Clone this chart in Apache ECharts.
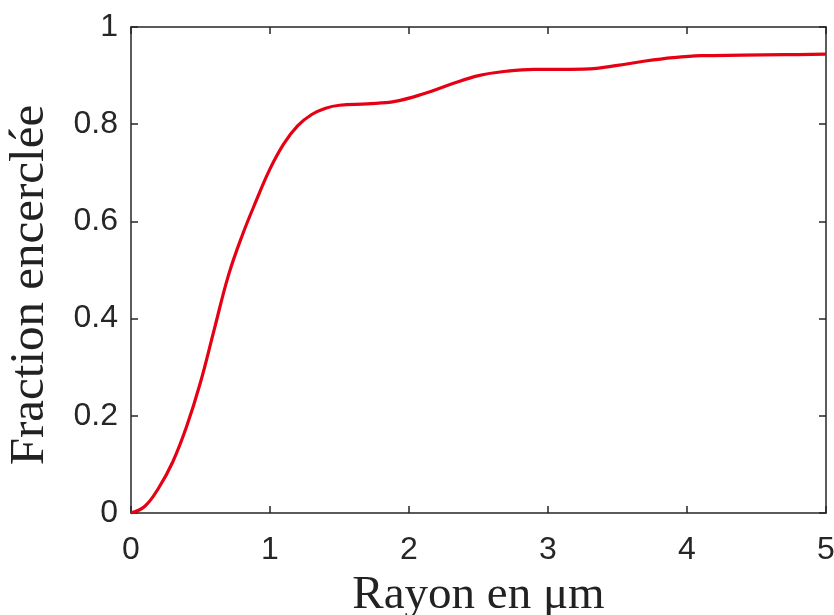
<!DOCTYPE html>
<html>
<head>
<meta charset="utf-8">
<script src="https://cdn.jsdelivr.net/npm/echarts@6/dist/echarts.min.js"></script>
<style>html,body{margin:0;padding:0;background:#fff;}#chart{width:834px;height:615px;}</style>
</head>
<body>
<div id="chart"></div>
<script>
var rayon = [0, 0.1, 0.2, 0.3, 0.4, 0.5, 0.6, 0.7, 0.8, 0.9, 1.0, 1.1, 1.2, 1.3, 1.4, 1.5, 1.7, 1.9, 2.1, 2.3, 2.5, 2.7, 2.9, 3.1, 3.3, 3.5, 3.7, 3.9, 4.1, 4.4, 4.7, 5.0];
var fraction = [0, 0.014, 0.052, 0.105, 0.178, 0.269, 0.379, 0.488, 0.571, 0.642, 0.708, 0.76, 0.797, 0.82, 0.833, 0.839, 0.842, 0.847, 0.862, 0.882, 0.900, 0.909, 0.913, 0.913, 0.914, 0.921, 0.930, 0.937, 0.941, 0.942, 0.943, 0.944];
var xTicks = [0, 1, 2, 3, 4, 5];
var yTicks = [0, 0.2, 0.4, 0.6, 0.8, 1];
var xTitle = 'Rayon en \u03bcm';
var yTitle = 'Fraction encercl\u00e9e';

var axisCol = '#262626';
var chart = echarts.init(document.getElementById('chart'));
var pts = rayon.map(function (x, i) { return [x, fraction[i]]; });
var tickFont = { fontFamily: 'Liberation Sans', fontSize: 32, color: axisCol };
function baseAxis(extra) {
  var a = {
    type: 'value', show: true,
    axisLine: { show: true, onZero: false, lineStyle: { color: axisCol, width: 1.5 } },
    axisTick: { show: true, inside: true, length: 7, lineStyle: { color: axisCol, width: 1.5 } },
    splitLine: { show: false }
  };
  for (var k in extra) a[k] = extra[k];
  return a;
}
chart.setOption({
  animation: false,
  grid: { left: 131, right: 8, top: 27, bottom: 102, containLabel: false, outerBoundsMode: 'none' },
  xAxis: [
    baseAxis({ min: xTicks[0], max: xTicks[xTicks.length - 1], interval: 1, position: 'bottom',
      axisLabel: Object.assign({ margin: 21 }, tickFont),
      name: xTitle, nameLocation: 'middle', nameGap: 59,
      nameTextStyle: { fontFamily: 'Liberation Serif', fontSize: 47, color: '#222' } }),
    baseAxis({ min: xTicks[0], max: xTicks[xTicks.length - 1], interval: 1, position: 'top',
      axisLabel: { show: false } })
  ],
  yAxis: [
    baseAxis({ min: yTicks[0], max: yTicks[yTicks.length - 1], interval: 0.2, position: 'left',
      axisLabel: Object.assign({ margin: 13 }, tickFont),
      name: yTitle, nameLocation: 'middle', nameGap: 76,
      nameTextStyle: { fontFamily: 'Liberation Serif', fontSize: 49, color: '#222', padding: [0, 30, 0, 0] } }),
    baseAxis({ min: yTicks[0], max: yTicks[yTicks.length - 1], interval: 0.2, position: 'right',
      axisLabel: { show: false } })
  ],
  series: [{
    type: 'line', data: pts, smooth: 0.4, showSymbol: false,
    lineStyle: { color: '#e60014', width: 3.2 }
  }]
});
</script>
</body>
</html>
